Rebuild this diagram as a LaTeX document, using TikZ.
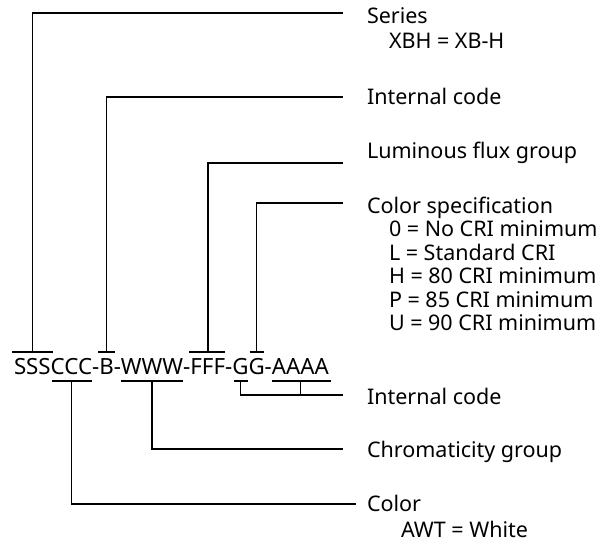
\documentclass[tikz,border=0pt]{standalone}
\usepackage{fontspec}
\setmainfont{Noto Sans}
\begin{document}
\begin{tikzpicture}[x=1pt,y=-1pt,
  code/.style={inner sep=0pt,outer sep=0pt,anchor=base west,font=\fontsize{22.3}{26}\selectfont},
  lab/.style={inner sep=0pt,outer sep=0pt,anchor=base west,font=\fontsize{21.5}{26}\selectfont},
  conn/.style={line width=1.6pt,line cap=rect},
  bar/.style={line width=1.6pt,line cap=butt}]
\useasboundingbox (0,0) rectangle (608,544);
% code string
\node[code] (S) at (14,374) {SSS};
\node[code,at=(S.base east)] (C) {CCC};
\node[code,at=(C.base east)] (d1) {-};
\node[code,at=(d1.base east)] (B) {B};
\node[code,at=(B.base east)] (d2) {-};
\node[code,at=(d2.base east)] (W) {WWW};
\node[code,at=(W.base east)] (d3) {-};
\node[code,at=(d3.base east)] (F) {FFF};
\node[code,at=(F.base east)] (d4) {-};
\node[code,at=(d4.base east)] (G1) {G};
\node[code,at=(G1.base east)] (G2) {G};
\node[code,at=(G2.base east)] (d5) {-};
\node[code,at=(d5.base east)] (A) {AAAA};
% labels
\node[lab] (series) at (367,23) {Series};
\node[lab] (seriesv) at (389,48) {XBH = XB-H};
\node[lab] (int1) at (367,104) {Internal code};
\node[lab] (lum) at (367,158) {Luminous flux group};
\node[lab] (cspec) at (367,213) {Color specification};
\node[lab] (cs0) at (389,236.5) {0 = No CRI minimum};
\node[lab] (csL) at (389,260) {L = Standard CRI};
\node[lab] (csH) at (389,283.5) {H = 80 CRI minimum};
\node[lab] (csP) at (389,307) {P = 85 CRI minimum};
\node[lab] (csU) at (389,330.5) {U = 90 CRI minimum};
\node[lab] (int2) at (367,404) {Internal code};
\node[lab] (chrom) at (367,457) {Chromaticity group};
\node[lab] (col) at (367,511) {Color};
\node[lab] (colv) at (401,537) {AWT = White};
% line ends
\coordinate (eSeries) at (342,13);
\coordinate (eInt1) at (342,97);
\coordinate (eLum) at (342,163);
\coordinate (eSpec) at (342,203);
\coordinate (eInt2) at (342,395);
\coordinate (eChrom) at (342,449);
\coordinate (eCol) at (355,504);
% over bars
\draw[bar] ([xshift=-2pt]S.west |- 0,352) -- ([xshift=2pt]S.east |- 0,352);
\draw[bar] ([xshift=-1pt]B.west |- 0,352) -- ([xshift=1pt]B.east |- 0,352);
\draw[bar] ([xshift=-1pt]F.west |- 0,352) -- (F.east |- 0,352);
\draw[bar,shorten <=1pt,shorten >=1pt] (G2.west |- 0,352) -- (G2.east |- 0,352);
% under bars
\draw[bar,shorten <=1pt] (C.west |- 0,381) -- (C.east |- 0,381);
\draw[bar] (W.west |- 0,381) -- (W.east |- 0,381);
\draw[bar,shorten <=1.5pt,shorten >=1pt] (G1.west |- 0,381) -- (G1.east |- 0,381);
\draw[bar] (A.west |- 0,381) -- ([xshift=2pt]A.east |- 0,381);
% connectors
\draw[conn] (S.center |- 0,352) |- (eSeries);
\draw[conn] (B.center |- 0,352) |- (eInt1);
\draw[conn] (F.center |- 0,352) |- (eLum);
\draw[conn] (G2.center |- 0,352) |- (eSpec);
\draw[conn] (G1.center |- 0,381) |- (eInt2);
\draw[conn] (A.center |- 0,381) -- (A.center |- eInt2);
\draw[conn] (W.center |- 0,381) |- (eChrom);
\draw[conn] (C.center |- 0,381) |- (eCol);
\end{tikzpicture}
\end{document}
